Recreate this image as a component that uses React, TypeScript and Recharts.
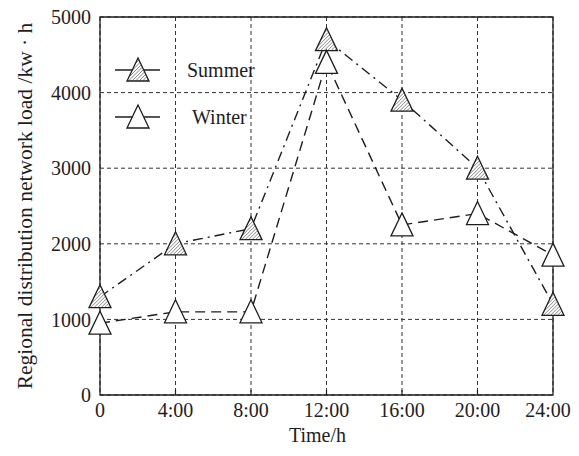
import React from 'react';
import { LineChart, Line, XAxis, YAxis, CartesianGrid, ReferenceArea } from 'recharts';

const hours = [0, 4, 8, 12, 16, 20, 24];
const xTickLabels = ['0', '4:00', '8:00', '12:00', '16:00', '20:00', '24:00'];
const yTicks = [0, 1000, 2000, 3000, 4000, 5000];
const summer = [1300, 2000, 2200, 4700, 3900, 3000, 1200];
const winter = [950, 1100, 1100, 4400, 2250, 2400, 1850];
const seriesNames = ['Summer', 'Winter'];

const data = hours.map((h, i) => ({ h, summer: summer[i], winter: winter[i] }));

const FONT = '"Liberation Serif", "Times New Roman", serif';
const INK = '#1e1e1e';

function Triangle({ cx, cy, hatched, id }: { cx: number; cy: number; hatched: boolean; id: string }) {
  const w = 11;
  const top = cy - 12;
  const bot = cy + 11;
  const d = `M${cx},${top} L${cx + w},${bot} L${cx - w},${bot} Z`;
  const lines: React.ReactNode[] = [];
  if (hatched) {
    for (let k = -30; k <= 30; k += 3.5) {
      lines.push(
        <line key={k} x1={cx + k - 15} y1={cy + 15} x2={cx + k + 15} y2={cy - 15} stroke="#555" strokeWidth={0.7} />
      );
    }
  }
  return (
    <g>
      {hatched && (
        <defs>
          <clipPath id={id}>
            <path d={d} />
          </clipPath>
        </defs>
      )}
      <path d={d} fill="#fff" stroke="none" />
      {hatched && <g clipPath={`url(#${id})`}>{lines}</g>}
      <path d={d} fill="none" stroke={INK} strokeWidth={1.3} strokeLinejoin="miter" />
    </g>
  );
}

function XTick(p: any) {
  const idx = hours.indexOf(p.payload.value);
  const shift = idx === hours.length - 1 ? -5 : 0;
  const axisY = p.y - 8;
  return (
    <g>
      {idx > 0 && idx < hours.length - 1 && (
        <line x1={p.x} y1={axisY} x2={p.x} y2={axisY - 5} stroke={INK} strokeWidth={1.2} />
      )}
      <text x={p.x + shift} y={p.y} dy="0.71em" textAnchor="middle" fill={INK} fontSize={20} fontFamily={FONT}>
        {xTickLabels[idx]}
      </text>
    </g>
  );
}

function LegendBox() {
  const rows = [
    { label: seriesNames[0], hatched: true, y: 20, tx: 82 },
    { label: seriesNames[1], hatched: false, y: 67, tx: 87 },
  ];
  return (
    <svg width={200} height={90} style={{ display: 'block', position: 'absolute', left: 97, top: 42 }}>
      {rows.map((r) => (
        <g key={r.label}>
          <line x1={10} y1={r.y} x2={55} y2={r.y} stroke={INK} strokeWidth={1.4} />
          <Triangle cx={33} cy={r.y} hatched={r.hatched} id={`leg-${r.label}`} />
          <text x={r.tx} y={r.y} dy="0.35em" fontFamily={FONT} fontSize={20} fill={INK}>
            {r.label}
          </text>
        </g>
      ))}
    </svg>
  );
}

export default function App() {
  return (
    <div style={{ position: 'relative', width: 571, height: 440 }}>
      <LineChart
        width={571}
        height={440}
        data={data}
        margin={{ top: 9, right: 26, bottom: 0, left: 0 }}
        style={{ fontFamily: FONT }}
      >
        <CartesianGrid stroke="#333" strokeDasharray="4 3" strokeWidth={1} />
        <XAxis
          dataKey="h"
          type="number"
          domain={[0, 24]}
          ticks={hours}
          height={53}
          tickSize={0}
          tickMargin={8}
          axisLine={false}
          interval={0}
          tick={<XTick />}
          label={{ value: 'Time/h', position: 'insideBottom', offset: 6, dx: -9, fill: INK, fontSize: 20, fontFamily: FONT }}
        />
        <YAxis
          type="number"
          domain={[0, 5000]}
          ticks={yTicks}
          width={92}
          tickSize={0}
          tickMargin={9}
          axisLine={false}
          interval={0}
          tick={{ fill: INK, fontSize: 20, fontFamily: FONT }}
          label={{
            value: 'Regional distribution network load /kw · h',
            angle: -90,
            position: 'insideLeft',
            offset: 16,
            style: { textAnchor: 'middle' },
            fill: INK,
            fontSize: 21.5,
            fontFamily: FONT,
          }}
        />
        <ReferenceArea x1={0} x2={24} y1={0} y2={5000} fill="none" stroke={INK} strokeWidth={1.3} ifOverflow="visible" />
        <Line
          dataKey="summer"
          name={seriesNames[0]}
          stroke={INK}
          strokeWidth={1.4}
          strokeDasharray="10 5 2 5"
          isAnimationActive={false}
          dot={(p: any) => <Triangle key={`s${p.index}`} cx={p.cx} cy={p.cy} hatched id={`hs${p.index}`} />}
          activeDot={false}
        />
        <Line
          dataKey="winter"
          name={seriesNames[1]}
          stroke={INK}
          strokeWidth={1.4}
          strokeDasharray="10 6"
          isAnimationActive={false}
          dot={(p: any) => <Triangle key={`w${p.index}`} cx={p.cx} cy={p.cy} hatched={false} id={`hw${p.index}`} />}
          activeDot={false}
        />
      </LineChart>
      <LegendBox />
    </div>
  );
}
